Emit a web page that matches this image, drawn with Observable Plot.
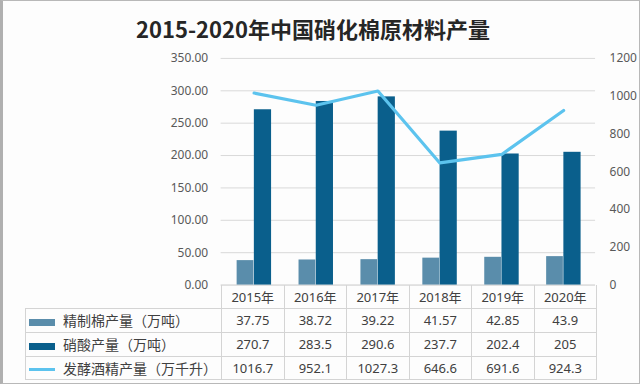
<!DOCTYPE html>
<html><head><meta charset="utf-8">
<script src="https://cdn.jsdelivr.net/npm/d3@7"></script>
<script src="https://cdn.jsdelivr.net/npm/@observablehq/plot@0.6"></script>
<style>
body{margin:0;background:#fff;}
#wrap{position:relative;width:640px;height:384px;box-sizing:border-box;border:1px solid #b8b8b8;border-left:3px solid #b0b0b0;background:#fdfdfd;overflow:hidden;font-family:"Noto Sans","Noto Sans CJK SC",sans-serif;}
#title{position:absolute;top:11px;left:0;width:620px;text-align:center;font-size:22px;font-weight:bold;color:#262626;font-family:"Noto Sans CJK SC","Noto Sans",sans-serif;}
#chart{position:absolute;left:-3px;top:-1px;}
table{position:absolute;left:22px;top:284px;border-collapse:collapse;table-layout:fixed;font-size:13px;color:#404040;}
td{padding:0;text-align:center;white-space:nowrap;overflow:hidden;}
td.v{border:1px solid #d4d4d4;}
td.h{border-left:1px solid #d4d4d4;border-right:1px solid #d4d4d4;}
td.lab{text-align:left;border:1px solid #d4d4d4;font-family:"Noto Sans CJK SC",sans-serif;font-size:14px;padding-left:3px;}
.sw{display:inline-block;width:26px;margin-right:8px;vertical-align:middle;}
</style></head>
<body><div id="wrap"><div id="title">2015-2020年中国硝化棉原材料产量</div><div id="chart"></div></div>
<script>
const years = ["2015年","2016年","2017年","2018年","2019年","2020年"];
const cotton = [37.75, 38.72, 39.22, 41.57, 42.85, 43.9];
const nitric = [270.7, 283.5, 290.6, 237.7, 202.4, 205];
const alcohol = [1016.7, 952.1, 1027.3, 646.6, 691.6, 924.3];
const seriesNames = ["精制棉产量（万吨）","硝酸产量（万吨）","发酵酒精产量（万千升）"];
const leftTicks = [0,50,100,150,200,250,300,350];
const rightTicks = [0,200,400,600,800,1000,1200];

const cLight = "#5a8dab", cDark = "#0a5f8c", cLine = "#5cc3ee";
const k = 350/1200;
const rows = years.map((y,i)=>({year:y, cotton:cotton[i], nitric:nitric[i], alcohol:alcohol[i]*k}));

const chart = Plot.plot({
  width: 640, height: 300,
  marginLeft: 221, marginRight: 44, marginTop: 58, marginBottom: 15,
  style: {fontFamily: "'Noto Sans', sans-serif", fontSize: "12px", color: "#595959", background: "transparent"},
  x: {domain: years, padding: 0, axis: null},
  y: {domain: [0,350], axis: null},
  marks: [
    Plot.ruleY(leftTicks.slice(1), {stroke: "#d9d9d9", strokeWidth: 1}),
    Plot.ruleY([0], {stroke: "#c8c8c8"}),
    Plot.axisY({ticks: leftTicks, tickSize: 0, tickPadding: 13, tickFormat: d => d.toFixed(2), fill: "#595959"}),
    Plot.axisY({anchor: "right", ticks: rightTicks.map(d=>d*k), tickSize: 0, tickPadding: 14, tickFormat: d => String(Math.round(d/k)), fill: "#595959"}),
    Plot.barY(rows, {x: "year", y: "cotton", fill: cLight, insetLeft: 14, insetRight: 31.25}),
    Plot.barY(rows, {x: "year", y: "nitric", fill: cDark, insetLeft: 31.25, insetRight: 13.5}),
    Plot.lineY(rows, {x: "year", y: "alcohol", stroke: cLine, strokeWidth: 3.2})
  ]
});
document.getElementById("chart").appendChild(chart);

// data table under the chart
const colW = 62.5;
let html = '<table><colgroup><col style="width:196px">' + years.map(()=>`<col style="width:${colW}px">`).join("") + '</colgroup>';
html += '<tr style="height:23px"><td></td>' + years.map(y=>`<td class="h">${y}</td>`).join("") + '</tr>';
const sw = [
  `<span class="sw" style="height:7px;background:${cLight}"></span>`,
  `<span class="sw" style="height:7px;background:${cDark}"></span>`,
  `<span class="sw" style="height:3px;background:${cLine}"></span>`
];
const vals = [cotton, nitric, alcohol];
const hs = [24,24,23];
vals.forEach((arr,r)=>{
  html += `<tr style="height:${hs[r]}px"><td class="lab">${sw[r]}${seriesNames[r]}</td>` + arr.map(v=>`<td class="v">${v}</td>`).join("") + '</tr>';
});
html += '</table>';
document.getElementById("wrap").insertAdjacentHTML("beforeend", html);
</script></body></html>
